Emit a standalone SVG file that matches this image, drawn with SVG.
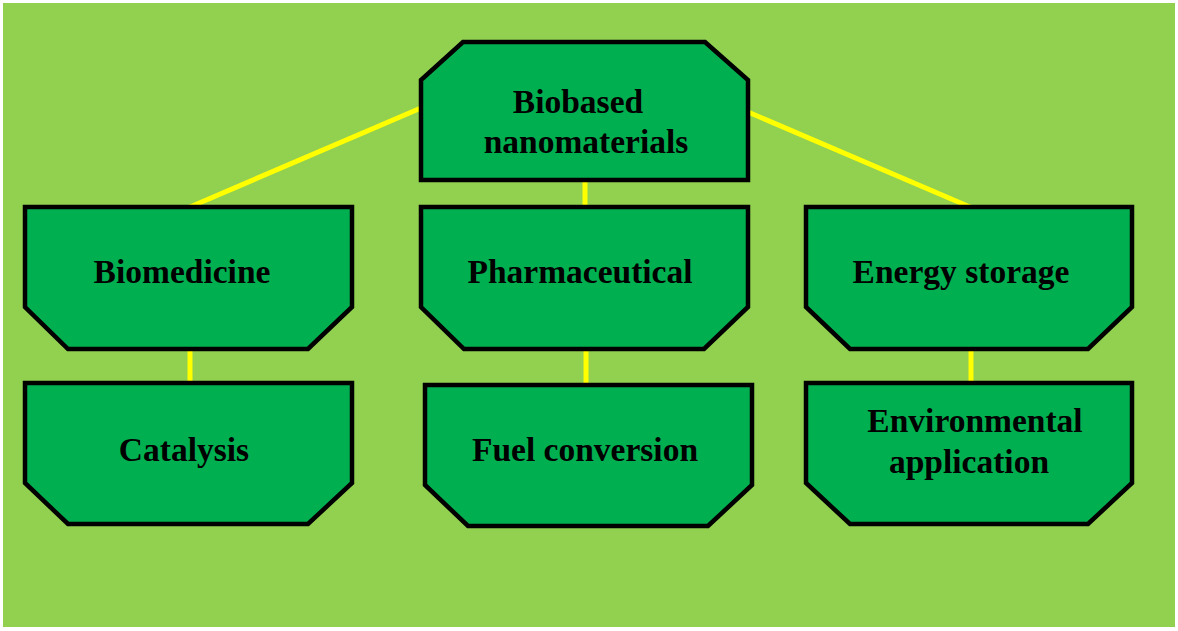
<svg xmlns="http://www.w3.org/2000/svg" width="1178" height="631" viewBox="0 0 1178 631">
<style>
.node{fill:#00B050;stroke:#000;stroke-width:4.5;stroke-linejoin:miter}
.lbl{font-family:"Liberation Serif","Times New Roman",serif;font-weight:bold;font-size:33.5px;fill:#000;text-anchor:middle}
.conn{stroke:#FFFF00;stroke-width:5;fill:none}
</style>
<rect x="0" y="0" width="1178" height="631" fill="#fff"/>
<rect x="3" y="3" width="1172" height="624" fill="#92D050"/>
<g id="connectors">
<line class="conn" x1="421" y1="108" x2="190" y2="207"/>
<line class="conn" x1="748" y1="112" x2="970" y2="207"/>
<line class="conn" x1="585" y1="180" x2="585" y2="207"/>
<line class="conn" x1="190" y1="349" x2="190" y2="383"/>
<line class="conn" x1="586" y1="349" x2="586" y2="385"/>
<line class="conn" x1="971" y1="349" x2="971" y2="383"/>
</g>
<g id="biobased">
<polygon class="node" points="463,42 705,42 748,80 748,180 421,180 421,80"/>
<text class="lbl" x="578" y="113">Biobased</text>
<text class="lbl" x="586" y="153">nanomaterials</text>
</g>
<g id="biomedicine">
<polygon class="node" points="25,207 352,207 352,307 308,349 68,349 25,307"/>
<text class="lbl" x="182" y="283">Biomedicine</text>
</g>
<g id="pharmaceutical">
<polygon class="node" points="421,207 748,207 748,307 704,349 464,349 421,307"/>
<text class="lbl" x="580" y="283">Pharmaceutical</text>
</g>
<g id="energy">
<polygon class="node" points="806,207 1132,207 1132,307 1088,349 850,349 806,307"/>
<text class="lbl" x="961" y="283">Energy storage</text>
</g>
<g id="catalysis">
<polygon class="node" points="25,383 352,383 352,483 308,524 68,524 25,483"/>
<text class="lbl" x="184" y="461">Catalysis</text>
</g>
<g id="fuel">
<polygon class="node" points="425,385 752,385 752,485 708,526 468,526 425,485"/>
<text class="lbl" x="585" y="461">Fuel conversion</text>
</g>
<g id="environmental">
<polygon class="node" points="806,383 1132,383 1132,483 1088,524 850,524 806,483"/>
<text class="lbl" x="975" y="432">Environmental</text>
<text class="lbl" x="969" y="473">application</text>
</g>
</svg>
